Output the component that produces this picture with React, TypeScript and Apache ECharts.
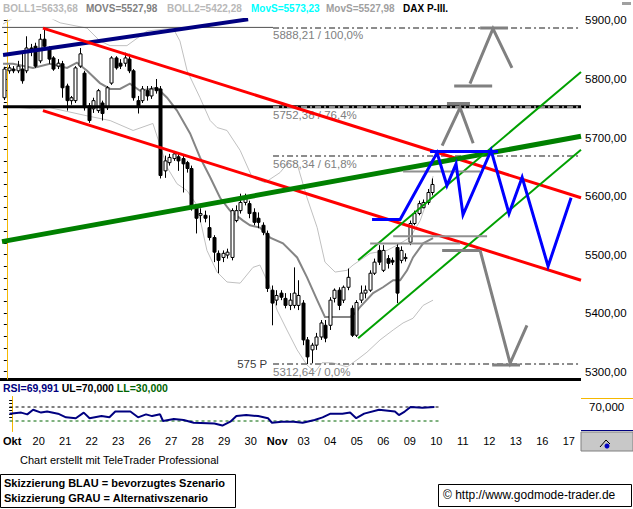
import React, { useEffect, useRef } from "react";
import * as echarts from "echarts";

const FONT = "'Liberation Sans', Arial, Helvetica, sans-serif";

// ---- axis / labels ----
const dayLabels = ["Okt", "20", "21", "22", "23", "26", "27", "28", "29", "30", "Nov", "03", "04", "05", "06", "09", "10", "11", "12", "13", "16", "17"];
const boldDayLabels = ["Okt", "Nov"];
const yLabelValues = [5300, 5400, 5500, 5600, 5700, 5800, 5900];

// ---- intraday candles (6 per day, first at day -0.1) ----
const candleOpen = [5768, 5814, 5817, 5814, 5817, 5814, 5853, 5856, 5831, 5868, 5851, 5836, 5822, 5826, 5788, 5763, 5763, 5822, 5810, 5754, 5749, 5746, 5759, 5751, 5793, 5836, 5827, 5827, 5834, 5814, 5763, 5763, 5780, 5771, 5785, 5783, 5643, 5657, 5664, 5667, 5664, 5657, 5647, 5580, 5567, 5567, 5546, 5529, 5502, 5495, 5499, 5495, 5558, 5575, 5589, 5587, 5572, 5562, 5550, 5536, 5439, 5422, 5434, 5425, 5413, 5413, 5413, 5417, 5354, 5337, 5345, 5359, 5379, 5379, 5425, 5439, 5422, 5444, 5408, 5362, 5422, 5434, 5439, 5468, 5507, 5473, 5493, 5490, 5512, 5490, 5493, 5521, 5553, 5570, 5580, 5589, 5606];
const candleClose = [5817, 5819, 5814, 5822, 5797, 5853, 5848, 5822, 5868, 5856, 5834, 5817, 5827, 5785, 5763, 5768, 5819, 5843, 5751, 5729, 5763, 5780, 5741, 5785, 5836, 5819, 5822, 5836, 5814, 5768, 5754, 5783, 5771, 5783, 5780, 5635, 5660, 5666, 5672, 5660, 5655, 5647, 5580, 5562, 5570, 5562, 5529, 5504, 5490, 5502, 5504, 5575, 5575, 5589, 5597, 5570, 5555, 5555, 5538, 5442, 5417, 5430, 5427, 5413, 5422, 5434, 5430, 5354, 5325, 5345, 5359, 5383, 5357, 5422, 5439, 5413, 5444, 5461, 5362, 5418, 5434, 5439, 5468, 5487, 5487, 5507, 5485, 5487, 5434, 5507, 5495, 5553, 5570, 5587, 5589, 5606, 5619.72];
const candleHigh = [5821, 5824, 5822, 5831, 5843, 5873, 5860, 5862, 5877, 5888.21, 5856, 5839, 5834, 5831, 5792, 5771, 5822, 5853, 5814, 5759, 5768, 5783, 5763, 5788, 5839, 5839, 5834, 5845, 5843, 5817, 5771, 5788, 5788, 5788, 5800, 5788, 5669, 5672, 5677, 5674, 5669, 5660, 5652, 5584, 5579, 5575, 5567, 5533, 5507, 5507, 5510, 5579, 5584, 5604, 5604, 5592, 5579, 5572, 5555, 5541, 5447, 5439, 5439, 5434, 5434, 5478, 5456, 5422, 5359, 5349, 5366, 5388, 5388, 5427, 5442, 5444, 5447, 5476, 5413, 5422, 5447, 5447, 5473, 5493, 5516, 5516, 5499, 5495, 5519, 5514, 5502, 5558, 5575, 5592, 5594, 5612, 5630];
const candleLow = [5764, 5809, 5810, 5810, 5792, 5810, 5839, 5819, 5827, 5851, 5826, 5814, 5817, 5768, 5746, 5756, 5759, 5819, 5746, 5725, 5742, 5742, 5729, 5747, 5790, 5816, 5817, 5821, 5810, 5763, 5741, 5759, 5763, 5766, 5775, 5630, 5631, 5652, 5660, 5643, 5606, 5640, 5575, 5536, 5555, 5555, 5524, 5487, 5468, 5487, 5493, 5490, 5555, 5570, 5584, 5562, 5550, 5545, 5533, 5436, 5379, 5413, 5422, 5408, 5405, 5408, 5405, 5345, 5312.64, 5314, 5337, 5354, 5350, 5371, 5418, 5405, 5417, 5439, 5359, 5359, 5417, 5425, 5436, 5465, 5482, 5470, 5476, 5482, 5417, 5485, 5488, 5516, 5550, 5567, 5579, 5585, 5601];
const FIRST_CANDLE_DAY = -0.1;
const CANDLES_PER_DAY = 6;

// ---- indicators as [day, value] ----
const movsPoints = [[-0.14, 5826], [0.23, 5826], [0.98, 5819], [1.61, 5826], [2.25, 5819], [2.62, 5828], [3.0, 5814], [3.48, 5793], [3.86, 5783], [4.23, 5783], [4.6, 5792], [4.98, 5780], [5.61, 5785], [5.99, 5768], [6.36, 5746], [6.85, 5707], [7.22, 5666], [7.6, 5632], [7.97, 5597], [8.34, 5575], [8.83, 5558], [9.09, 5550], [9.46, 5546], [9.84, 5529], [10.32, 5519], [10.85, 5495], [11.22, 5461], [11.6, 5422], [11.89, 5393], [12.46, 5393], [12.83, 5393], [13.02, 5400], [13.2, 5410], [13.69, 5434], [14.06, 5444], [14.44, 5456], [14.7, 5456], [14.96, 5473], [15.18, 5495], [15.56, 5519], [15.93, 5528]];
const boll1Points = [[-0.14, 5894], [0.31, 5906], [1.24, 5913], [1.99, 5896], [3.0, 5887], [3.48, 5865], [3.86, 5857], [4.49, 5857], [5.24, 5882], [6.21, 5887], [6.47, 5865], [6.74, 5814], [7.22, 5768], [7.6, 5729], [7.86, 5717], [8.23, 5712], [8.72, 5678], [9.17, 5632], [9.65, 5623], [10.21, 5640], [10.59, 5661], [10.85, 5655], [11.22, 5597], [11.6, 5546], [11.89, 5487], [12.27, 5470], [12.72, 5473], [12.94, 5482], [13.58, 5502], [14.21, 5507], [14.59, 5516], [15.07, 5529], [15.45, 5558], [15.71, 5592], [15.93, 5634]];
const boll2Points = [[-0.14, 5754], [0.98, 5749], [1.61, 5751], [3.0, 5737], [3.86, 5729], [4.72, 5712], [5.46, 5724], [5.73, 5686], [5.99, 5649], [6.36, 5621], [6.74, 5609], [7.11, 5584], [7.48, 5507], [7.86, 5470], [8.23, 5453], [8.72, 5451], [9.2, 5478], [9.46, 5482], [9.84, 5444], [10.1, 5405], [10.47, 5371], [10.85, 5337], [11.22, 5311], [11.52, 5299], [11.78, 5315], [12.16, 5315], [12.72, 5308], [13.09, 5320], [13.46, 5333], [13.95, 5354], [14.44, 5371], [14.81, 5383], [15.18, 5391], [15.56, 5413], [15.93, 5422]];
const rsiPoints = [[-0.1, 51], [0.34, 54], [0.57, 49], [0.79, 62], [1.09, 54], [1.32, 57], [1.73, 51], [2.03, 40.5], [2.4, 38], [2.7, 54], [2.92, 38], [3.37, 44], [3.67, 40.5], [3.89, 57], [4.46, 57], [4.75, 40.5], [5.05, 49], [5.28, 44], [5.58, 49], [5.69, 30], [6.1, 36], [6.47, 33], [6.85, 25], [7.63, 22.6], [7.93, 17], [8.23, 28], [8.46, 44], [8.83, 47], [9.28, 44], [9.65, 38], [9.8, 25], [10.17, 28], [10.62, 28], [10.96, 25], [11.41, 33], [11.71, 40.5], [12.01, 51], [12.46, 51], [12.75, 54], [12.98, 38], [13.28, 51], [13.84, 62], [14.44, 57], [14.59, 47], [14.81, 57], [15.03, 70], [15.48, 68], [15.93, 69.991]];
const rsiUpper = 70;
const rsiLower = 30;

// ---- drawn analysis lines [day, price] ----
const navyLine = [[-0.14, 5841], [9.02, 5902]];
const redUpper = [[1.35, 5887], [21.46, 5597]];
const redLower = [[1.35, 5746], [21.46, 5456]];
const blackLevel = [[-0.14, 5752.38], [21.46, 5752.38]];
const greenThick = [[-0.18, 5522], [21.46, 5702]];
const greenUpper = [[13.13, 5490], [21.46, 5812]];
const greenLower = [[13.13, 5357], [21.46, 5679]];
const blueScenario = [[13.65, 5560], [14.7, 5560], [16.08, 5674], [16.45, 5618], [16.79, 5655], [17.05, 5568], [18.1, 5678], [18.77, 5570], [19.26, 5632], [20.23, 5480], [21.09, 5597]];
const blueTopBar = [[15.82, 5676], [18.36, 5676]];
const grayUpArrow = [[17.31, 5792], [18.17, 5886], [18.88, 5819]];
const grayUpBase = [[16.72, 5788], [18.14, 5788]];
const grayUpTop = [[17.69, 5887], [18.73, 5887]];
const grayMidArrow = [[16.27, 5686], [16.94, 5751], [17.43, 5690]];
const grayMidTop = [[16.45, 5758], [17.31, 5758]];
const grayBar1 = [[14.81, 5642], [17.69, 5642]];
const grayBar2 = [[14.44, 5531], [17.95, 5531]];
const grayBar3 = [[13.58, 5519], [16.94, 5519]];
const grayBar4 = [[16.27, 5507], [17.69, 5507]];
const grayDownArrow = [[17.69, 5507], [18.81, 5314], [19.44, 5379]];
const grayDownBase = [[18.14, 5311], [19.18, 5311]];
const highLine = [[-0.18, 5888.21], [9.95, 5888.21]];

const fibLevels = [5888.21, 5752.38, 5668.34, 5312.64];
const fibLabels = ["5888,21 / 100,0%", "5752,38 / 76,4%", "5668,34 / 61,8%", "5312,64 / 0,0%"];
const FIB_START = 9.95;
const rangeLabel = "575 P";
const rangeLabelPoint = [9.17, 5312.64];
const lastPrice = 5619.72;

const X_MIN = -0.18;
const X_MAX = 21.46;
const Y_MIN = 5287.2;
const Y_MAX = 5900.85;

const fmt2 = (v: number) => v.toFixed(2).replace(".", ",");

function lineS(data: number[][], color: string, width: number, z = 4, type: any = "solid") {
  return {
    type: "line",
    xAxisIndex: 0,
    yAxisIndex: 0,
    data,
    symbol: "none",
    silent: true,
    z,
    clip: true,
    lineStyle: { color, width, type, cap: "butt", join: "miter" },
  };
}

export default function App() {
  const ref = useRef<HTMLDivElement>(null);
  useEffect(() => {
    document.body.style.margin = "0";
    const chart = echarts.init(ref.current!, null, { renderer: "svg" });
    const yMinorTicks: number[] = [];
    for (let v = 5300; v <= 5900; v += 20) yMinorTicks.push(v);

    const candleData = candleOpen.map((o, i) => [FIRST_CANDLE_DAY + i / CANDLES_PER_DAY, o, candleClose[i], candleLow[i], candleHigh[i]]);
    const HF = "bold 10px " + FONT;
    const RF = "bold 10.5px " + FONT;

    const option: any = {
      animation: false,
      backgroundColor: "#ffffff",
      textStyle: { fontFamily: FONT },
      grid: [
        { left: 2, right: 52, top: 20, bottom: 130 },
        { left: 2, right: 52, top: 396.5, bottom: 77.5 },
      ],
      xAxis: [
        { type: "value", gridIndex: 0, min: X_MIN, max: X_MAX, show: false },
        {
          type: "value",
          gridIndex: 1,
          min: X_MIN,
          max: X_MAX,
          axisLine: { show: false },
          axisTick: { show: false },
          splitLine: { show: false },
          axisLabel: {
            customValues: dayLabels.map((_, i) => i),
            formatter: (v: number) => {
              const t = dayLabels[Math.round(v)] || "";
              return boldDayLabels.includes(t) ? "{b|" + t + "}" : t;
            },
            margin: 4,
            fontSize: 11,
            color: "#000",
            fontFamily: FONT,
            rich: { b: { fontWeight: "bold", fontSize: 11, color: "#000", fontFamily: FONT } },
          },
        },
      ],
      yAxis: [
        {
          type: "value",
          gridIndex: 0,
          position: "right",
          min: Y_MIN,
          max: Y_MAX,
          splitLine: { show: false },
          axisLine: { show: true, lineStyle: { color: "#f5b800", width: 1 } },
          axisTick: { show: true, inside: true, length: 3, customValues: yMinorTicks, lineStyle: { color: "#000" } },
          axisLabel: { customValues: yLabelValues, formatter: (v: number) => fmt2(v), margin: 4, color: "#000", fontSize: 11.5, fontFamily: FONT },
        },
        {
          type: "value",
          gridIndex: 1,
          position: "right",
          min: 0,
          max: 100,
          splitLine: { show: false },
          axisLine: { show: true, lineStyle: { color: "#f5b800", width: 1 } },
          axisTick: { show: true, inside: true, length: 3, customValues: [40, 50, 60, 70, 80, 90], lineStyle: { color: "#000" } },
          axisLabel: { customValues: [rsiUpper], formatter: (v: number) => v.toFixed(3).replace(".", ","), margin: 8, color: "#000", fontSize: 11.5, fontFamily: FONT },
        },
      ],
      series: [
        lineS(boll1Points, "#c0c0c0", 1, 2),
        lineS(boll2Points, "#c0c0c0", 1, 2),
        {
          ...lineS(movsPoints, "#858585", 2, 2),
          markLine: {
            silent: true,
            symbol: ["none", "none"],
            animation: false,
            lineStyle: { color: "#8c8c8c", width: 2, type: [6, 3, 2, 3] },
            label: { show: true, position: "insideStartBottom", formatter: "{b}", color: "#808080", fontSize: 11.5, fontFamily: FONT, distance: [0, 2] },
            data: [
              ...fibLevels.map((v, i) => [
                { coord: [FIB_START, v], name: fibLabels[i] },
                { coord: [X_MAX, v] },
              ]),
              {
                yAxis: lastPrice,
                lineStyle: { opacity: 0, width: 0 },
                label: {
                  show: true,
                  position: "end",
                  formatter: fmt2(lastPrice),
                  color: "#fff",
                  backgroundColor: "#000",
                  padding: [1, 2, 0, 2],
                  fontSize: 11.5,
                  fontFamily: FONT,
                  distance: 2,
                },
              },
            ],
          },
        },
        lineS(highLine, "#505050", 1, 2),
        {
          type: "custom",
          xAxisIndex: 0,
          yAxisIndex: 0,
          z: 3,
          silent: true,
          clip: true,
          data: candleData,
          encode: { x: 0, y: [1, 2, 3, 4] },
          renderItem: (params: any, api: any) => {
            const x = api.value(0);
            const o = api.value(1);
            const c = api.value(2);
            const l = api.value(3);
            const h = api.value(4);
            const pO = api.coord([x, o]);
            const pC = api.coord([x, c]);
            const pL = api.coord([x, l]);
            const pH = api.coord([x, h]);
            const cx = Math.round(pO[0]) + 0.5;
            const top = Math.min(pO[1], pC[1]);
            const bot = Math.max(pO[1], pC[1]);
            const up = c >= o;
            return {
              type: "group",
              children: [
                { type: "line", shape: { x1: cx, y1: pH[1], x2: cx, y2: pL[1] }, style: { stroke: "#000", lineWidth: 1 } },
                {
                  type: "rect",
                  shape: { x: cx - 1.5, y: top, width: 3, height: Math.max(1, bot - top) },
                  style: { fill: up ? "#fff" : "#000", stroke: "#000", lineWidth: 1 },
                },
              ],
            };
          },
        },
        lineS(blackLevel, "#000", 3, 4),
        lineS(navyLine, "#000080", 4, 5),
        lineS(redUpper, "#ff0000", 3, 5),
        lineS(redLower, "#ff0000", 3, 5),
        lineS(greenThick, "#008000", 5, 5),
        lineS(greenUpper, "#00a000", 2, 5),
        lineS(greenLower, "#00a000", 2, 5),
        lineS(grayUpArrow, "#808080", 3, 5),
        lineS(grayUpBase, "#808080", 3, 5),
        lineS(grayUpTop, "#808080", 3, 5),
        lineS(grayMidArrow, "#808080", 3, 5),
        lineS(grayMidTop, "#808080", 3, 5),
        lineS(grayBar1, "#909090", 2, 5),
        lineS(grayBar2, "#909090", 2, 5),
        lineS(grayBar3, "#909090", 2, 5),
        lineS(grayBar4, "#808080", 3, 5),
        lineS(grayDownArrow, "#808080", 3, 5),
        lineS(grayDownBase, "#808080", 3, 5),
        lineS(blueScenario, "#0000ff", 3, 6),
        lineS(blueTopBar, "#0000ff", 3, 6),
        {
          type: "scatter",
          xAxisIndex: 0,
          yAxisIndex: 0,
          data: [rangeLabelPoint],
          symbolSize: 0,
          silent: true,
          z: 6,
          label: { show: true, position: "inside", formatter: rangeLabel, color: "#000", fontSize: 11.5, fontFamily: FONT },
        },
        {
          type: "line",
          xAxisIndex: 1,
          yAxisIndex: 1,
          data: [[rsiPoints[0][0], rsiUpper], [16.19, rsiUpper]],
          symbol: "none",
          silent: true,
          lineStyle: { color: "#000", width: 1, type: [3, 3] },
        },
        {
          type: "line",
          xAxisIndex: 1,
          yAxisIndex: 1,
          data: [[rsiPoints[0][0], rsiLower], [16.19, rsiLower]],
          symbol: "none",
          silent: true,
          lineStyle: { color: "#006400", width: 1, type: [3, 3] },
        },
        {
          type: "line",
          xAxisIndex: 1,
          yAxisIndex: 1,
          data: rsiPoints,
          symbol: "none",
          silent: true,
          lineStyle: { color: "#000080", width: 2 },
        },
      ],
      graphic: [
        { type: "text", x: 3, y: 3, style: { text: "BOLL1=5633,68", fill: "#b8b8b8", font: HF } },
        { type: "text", x: 86, y: 3, style: { text: "MOVS=5527,98", fill: "#808080", font: HF } },
        { type: "text", x: 167, y: 3, style: { text: "BOLL2=5422,28", fill: "#b8b8b8", font: HF } },
        { type: "text", x: 251, y: 3, style: { text: "MovS=5573,23", fill: "#00ffff", font: HF } },
        { type: "text", x: 326, y: 3, style: { text: "MovS=5527,98", fill: "#a0a0a0", font: HF } },
        { type: "text", x: 403, y: 3, style: { text: "DAX P-III.", fill: "#000", font: HF } },
        { type: "rect", shape: { x: 622, y: 2, width: 9, height: 3 }, style: { fill: "#a0a0a0" } },
        { type: "rect", shape: { x: 0, y: 378, width: 581, height: 3 }, style: { fill: "#000" } },
        { type: "text", x: 3, y: 382, style: { text: "{a|RSI=69,991} {b|UL=70,000} {c|LL=30,000}", font: RF, rich: { a: { fill: "#000080", font: RF }, b: { fill: "#000", font: RF }, c: { fill: "#006400", font: RF } } } },
        { type: "line", shape: { x1: 581, y1: 398.5, x2: 633, y2: 398.5 }, style: { stroke: "#f5b800", lineWidth: 1 } },
        { type: "line", shape: { x1: 581, y1: 430.5, x2: 633, y2: 430.5 }, style: { stroke: "#000080", lineWidth: 1 } },
        { type: "rect", shape: { x: 581, y: 432, width: 52, height: 19 }, style: { fill: "#c8c8c8", stroke: "#808080", lineWidth: 1 } },
        { type: "polyline", shape: { points: [[600, 447], [606, 440], [610, 444]] }, style: { stroke: "#000", lineWidth: 1, fill: null } },
        { type: "circle", shape: { cx: 607, cy: 446, r: 2.5 }, style: { fill: "#0000c0" } },
        { type: "text", x: 20, y: 454, style: { text: "Chart erstellt mit TeleTrader Professional", fill: "#000", font: "11px " + FONT } },
        { type: "rect", shape: { x: 0.5, y: 474.5, width: 235, height: 33 }, style: { fill: "#fff", stroke: "#000", lineWidth: 1 } },
        { type: "text", x: 4, y: 477, style: { text: "Skizzierung BLAU = bevorzugtes Szenario", fill: "#000", font: "bold 11px " + FONT } },
        { type: "text", x: 4, y: 492, style: { text: "Skizzierung GRAU = Alternativszenario", fill: "#000", font: "bold 11px " + FONT } },
        { type: "rect", shape: { x: 438.5, y: 484.5, width: 193, height: 22 }, style: { fill: "#fff", stroke: "#000", lineWidth: 1 } },
        { type: "text", x: 443, y: 489, style: { text: "© http://www.godmode-trader.de", fill: "#000", font: "12px " + FONT } },
      ],
    };
    chart.setOption(option);
    return () => chart.dispose();
  }, []);
  return <div ref={ref} style={{ position: "absolute", left: 0, top: 0, width: 633, height: 509, background: "#fff" }} />;
}
